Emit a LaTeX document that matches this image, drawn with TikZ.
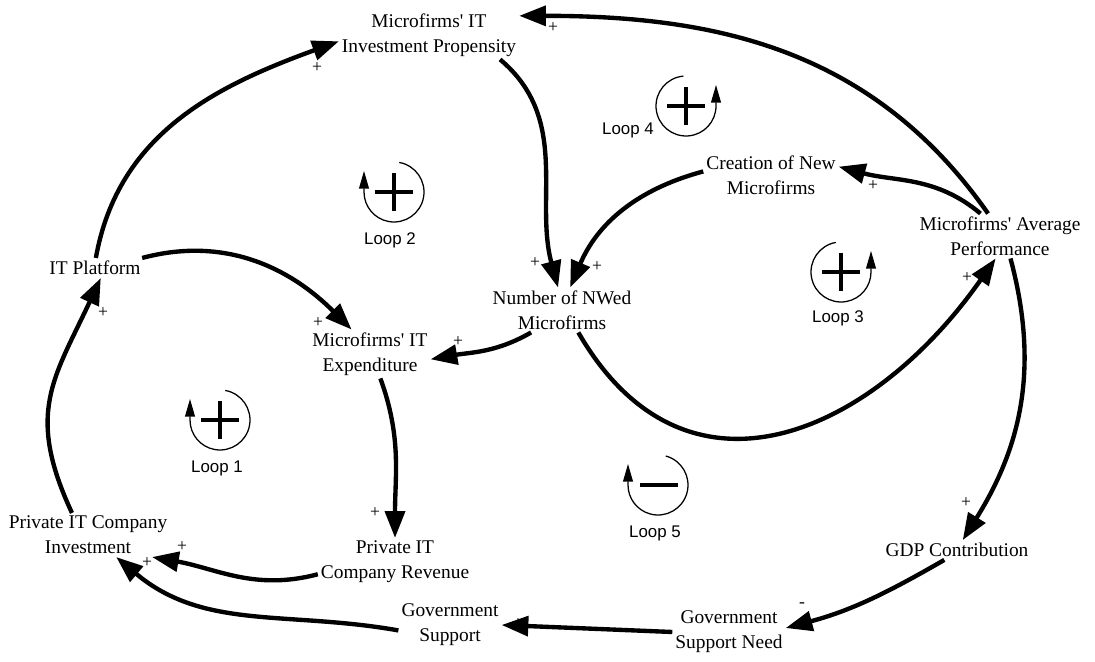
\documentclass[tikz,border=0pt]{standalone}
\usepackage{fontspec}
\setmainfont{Liberation Serif}[Ligatures=TeXOff]
\setsansfont{Liberation Sans}
\usetikzlibrary{arrows.meta}

\tikzset{
  var/.style={align=center, inner sep=2pt, font=\fontsize{13.8}{17.7}\selectfont},
  link/.style={line width=3.1pt, -{Triangle[length=19pt,width=14pt]}},
  pol/.style={inner sep=0pt, font=\fontsize{12.5}{12.5}\selectfont},
  looparc/.style={line width=0.9pt, -{Triangle[length=12.5pt,width=7pt]}},
  loopsign/.style={line width=2.3pt},
  looplabel/.style={inner sep=0pt, font=\sffamily\fontsize{12}{13}\selectfont},
}

\begin{document}
\begin{tikzpicture}[x=0.025cm, y=0.025cm]
        \useasboundingbox (0,0) rectangle (1095,662);

        % variables
        \node[var] (prop) at (429,627) {Microfirms' IT\\Investment Propensity};
        \node[var] (plat) at (95,394) {IT Platform};
        \node[var] (exp) at (370,308) {Microfirms' IT\\Expenditure};
        \node[var] (nwed) at (562,352) {Number of NWed\\Microfirms};
        \node[var] (crea) at (771,487) {Creation of New\\Microfirms};
        \node[var] (perf) at (1000,426) {Microfirms' Average\\Performance};
        \node[var] (rev) at (395,100) {Private IT\\Company Revenue};
        \node[var] (inv) at (88,127) {Private IT Company\\Investment};
        \node[var] (gdp) at (957,112) {GDP Contribution};
        \node[var] (need) at (729,30) {Government\\Support Need};
        \node[var] (gsup) at (450,37) {Government\\Support};

        % causal links
        \draw[link] (perf.118) to[out=125,in=0] (prop.12);
        \draw[link] (plat.85) to[out=80,in=200] (prop.184);
        \draw[link] (prop.-19) to[out=-40,in=105] (nwed.100);
        \draw[link] (crea.177) to[out=195,in=67] (nwed.70);
        \draw[link] (perf.131) to[out=140,in=-15] (crea.7);
        \draw[link] (plat.12) to[out=15,in=135] (exp.127);
        \draw[link] (nwed.216) to[out=210,in=10] (exp.-5);
        \draw[link] (nwed.-54) to[out=-60,in=235,looseness=1.3] (perf.259);
        \draw[link] (exp.-67) to[out=-70,in=90] (rev.north);
        \draw[link] (rev.189) to[out=195,in=-10] (inv.-19);
        \draw[link] (gsup.186) to[out=170,in=-40] (inv.-38);
        \draw[link] (inv.126) to[out=115,in=245,looseness=1.2] (plat.-60);
        \draw[link] (perf.-65) to[out=-75,in=58] (gdp.60);
        \draw[link] (gdp.218) to[out=210,in=15] (need.4);
        \draw[link] (need.west) -- (gsup.east);

        % polarities
        \node[pol] (s1) at (553,634) {+};
        \node[pol] (s2) at (317,594) {+};
        \node[pol] (s3) at (535,399) {+};
        \node[pol] (s4) at (597,395) {+};
        \node[pol] (s5) at (873,476) {+};
        \node[pol] (s6) at (318,339) {+};
        \node[pol] (s7) at (458,320) {+};
        \node[pol] (s8) at (967,384) {+};
        \node[pol] (s9) at (375,149) {+};
        \node[pol] (s10) at (182,115) {+};
        \node[pol] (s11) at (147,99) {+};
        \node[pol] (s12) at (103,349) {+};
        \node[pol] (s13) at (966,159) {+};
        \node[pol] (s14) at (802,57) {-};
        \node[pol] (s15) at (518,38) {+};

        % loop markers
        \coordinate (c1) at (220,242);
        \coordinate (c2) at (394,470);
        \coordinate (c3) at (841,390);
        \coordinate (c4) at (686,556);
        \coordinate (c5) at (658,177);

        \draw[looparc] (c1) ++(80:30) arc[start angle=80,end angle=-180,radius=30] -- ++(0,21);
        \draw[looparc] (c2) ++(80:30) arc[start angle=80,end angle=-180,radius=30] -- ++(0,21);
        \draw[looparc] (c3) ++(100:30) arc[start angle=100,end angle=360,radius=30] -- ++(0,21);
        \draw[looparc] (c4) ++(95:30) arc[start angle=95,end angle=360,radius=30] -- ++(0,21);
        \draw[looparc] (c5) ++(75:30) arc[start angle=75,end angle=-180,radius=30] -- ++(0,21);

        \draw[loopsign] (c1) ++(-19,0) -- ++(38,0) (c1) ++(0,-19) -- ++(0,38);
        \draw[loopsign] (c2) ++(-19,0) -- ++(38,0) (c2) ++(0,-19) -- ++(0,38);
        \draw[loopsign] (c3) ++(-19,0) -- ++(38,0) (c3) ++(0,-19) -- ++(0,38);
        \draw[loopsign] (c4) ++(-19,0) -- ++(38,0) (c4) ++(0,-19) -- ++(0,38);
        \draw[loopsign] (c5) ++(-18,0) -- ++(38,0);

        \node[looplabel] (l1) at (217,194) {Loop 1};
        \node[looplabel] (l2) at (390,422) {Loop 2};
        \node[looplabel] (l3) at (838,344) {Loop 3};
        \node[looplabel] (l4) at (628,532) {Loop 4};
        \node[looplabel] (l5) at (655,129) {Loop 5};
\end{tikzpicture}
\end{document}
